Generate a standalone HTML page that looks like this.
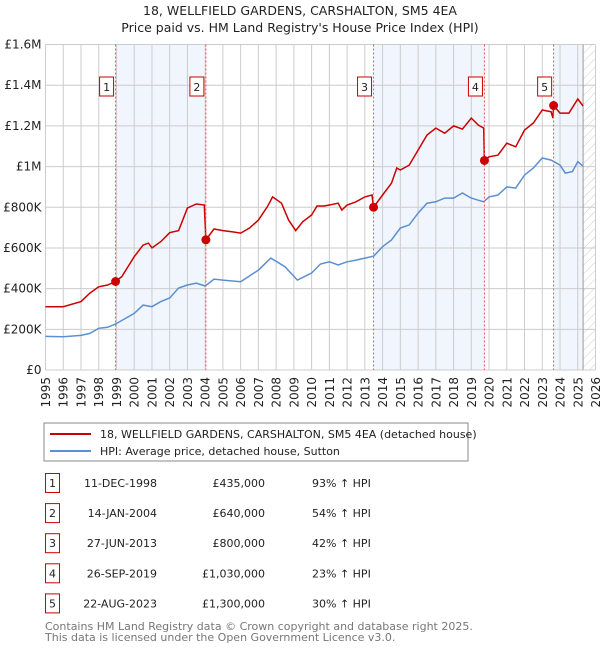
<!DOCTYPE html>
<html><head><meta charset="utf-8"><style>
body{margin:0;background:#fff;font-family:"DejaVu Sans","Liberation Sans",sans-serif;}
svg text{font-family:"DejaVu Sans","Liberation Sans",sans-serif;}
</style></head><body>
<svg id="chart" width="600" height="650" viewBox="0 0 600 650" xmlns="http://www.w3.org/2000/svg">
<defs><pattern id="hatch" width="6" height="6" patternUnits="userSpaceOnUse" patternTransform="rotate(45)"><line x1="0" y1="0" x2="0" y2="6" stroke="#ccc" stroke-width="1"/></pattern></defs>
<text x="300" y="15" text-anchor="middle" font-size="12.5" fill="#222">18, WELLFIELD GARDENS, CARSHALTON, SM5 4EA</text>
<text x="300" y="32" text-anchor="middle" font-size="12.5" fill="#222">Price paid vs. HM Land Registry's House Price Index (HPI)</text>
<g id="bands"></g><g id="grid"></g><g id="axes"></g><g id="lines"></g><g id="marks"></g>
<rect x="44" y="423" width="424" height="38" fill="#fff" stroke="#888"/>
<line x1="50" y1="434" x2="91" y2="434" stroke="#cc0000" stroke-width="2"/>
<text x="100" y="438" font-size="11" fill="#222">18, WELLFIELD GARDENS, CARSHALTON, SM5 4EA (detached house)</text>
<line x1="50" y1="451" x2="91" y2="451" stroke="#5b8fd4" stroke-width="2"/>
<text x="100" y="455" font-size="11" fill="#222">HPI: Average price, detached house, Sutton</text>
<g id="table"></g>
<text x="45" y="630" font-size="11" fill="#777">Contains HM Land Registry data © Crown copyright and database right 2025.</text>
<text x="45" y="641" font-size="11" fill="#777">This data is licensed under the Open Government Licence v3.0.</text>
</svg>
<script>
const hpiYears=[1995,1996,1997,1997.5,1998,1998.5,1998.95,2000,2000.5,2001,2001.5,2002,2002.5,2003,2003.5,2004,2004.5,2005,2006,2007,2007.7,2008.5,2009.2,2010,2010.5,2011,2011.5,2012,2012.5,2013,2013.5,2014,2014.5,2015,2015.5,2016,2016.5,2017,2017.5,2018,2018.5,2019,2019.7,2020,2020.5,2021,2021.5,2022,2022.5,2023,2023.5,2024,2024.3,2024.7,2025,2025.3];
const hpiValues=[165000,163000,170000,180000,205000,210000,226000,278000,319000,311000,336000,354000,403000,418000,427000,413000,447000,442000,434000,491000,550000,508000,442000,477000,521000,532000,516000,532000,540000,550000,560000,606000,639000,698000,713000,771000,820000,827000,845000,845000,870000,845000,827000,851000,860000,900000,894000,958000,993000,1042000,1032000,1007000,968000,975000,1024000,1002000];
const redYears=[1995,1996,1997,1997.5,1998,1998.5,1998.95,1999.3,2000,2000.5,2000.8,2001,2001.5,2002,2002.5,2003,2003.5,2003.95,2004.04,2004.5,2005,2005.5,2006,2006.5,2007,2007.5,2007.8,2008.3,2008.7,2009.1,2009.5,2010,2010.3,2010.7,2011,2011.5,2011.7,2012,2012.5,2013,2013.4,2013.49,2014,2014.5,2014.8,2015,2015.5,2016,2016.5,2017,2017.5,2018,2018.5,2019,2019.4,2019.7,2019.74,2020,2020.5,2021,2021.5,2022,2022.5,2023,2023.5,2023.6,2023.64,2024,2024.5,2025,2025.3];
const redValues=[311000,311000,336000,378000,409000,418000,435000,459000,557000,614000,624000,600000,631000,675000,685000,796000,816000,811000,640000,693000,685000,680000,673000,698000,737000,802000,851000,820000,737000,685000,729000,762000,806000,806000,811000,820000,786000,811000,827000,851000,860000,800000,860000,918000,993000,983000,1007000,1081000,1155000,1189000,1164000,1200000,1184000,1238000,1204000,1189000,1030000,1048000,1056000,1115000,1097000,1179000,1214000,1278000,1269000,1238000,1300000,1263000,1263000,1332000,1297000];
const saleLabels=["1","2","3","4","5"];
const saleYears=[1998.95,2004.04,2013.49,2019.74,2023.64];
const salePrices=[435000,640000,800000,1030000,1300000];
const saleDates=["11-DEC-1998","14-JAN-2004","27-JUN-2013","26-SEP-2019","22-AUG-2023"];
const salePriceText=["£435,000","£640,000","£800,000","£1,030,000","£1,300,000"];
const salePct=["93% ↑ HPI","54% ↑ HPI","42% ↑ HPI","23% ↑ HPI","30% ↑ HPI"];
const yTicks=[0,200000,400000,600000,800000,1000000,1200000,1400000,1600000];
const yTickLabels=["£0","£200K","£400K","£600K","£800K","£1M","£1.2M","£1.4M","£1.6M"];
const dataEnd=2025.3;

const X0=45.5,X1=595.5,Y0=370,Y1=44.5;
const x=v=>X0+(v-1995)/(2026-1995)*(X1-X0);
const y=v=>Y0-v/1600000*(Y0-Y1);
const NS="http://www.w3.org/2000/svg";
function mk(tag,attrs,parent){const e=document.createElementNS(NS,tag);for(const k in attrs)e.setAttribute(k,attrs[k]);document.getElementById(parent).appendChild(e);return e;}

[[0,1],[2,3]].forEach(p=>{const r=mk('rect',{x:x(saleYears[p[0]]),y:Y1,width:x(saleYears[p[1]])-x(saleYears[p[0]]),height:Y0-Y1,fill:'#eef3fc',opacity:0.8},'bands');

});
const b5=mk('rect',{x:x(saleYears[4]),y:Y1,width:x(dataEnd)-x(saleYears[4]),height:Y0-Y1,fill:'#eef3fc',opacity:0.8},'bands');


const h=mk('rect',{x:x(dataEnd),y:Y1,width:X1-x(dataEnd),height:Y0-Y1,fill:'url(#hatch)'},'bands');


for(let yr=1995;yr<=2026;yr++){const l=mk('line',{x1:x(yr),x2:x(yr),y1:Y1,y2:Y0,stroke:'#ccc','stroke-width':1},'grid');


const tx=x(yr)+4.5,ty=377;
const t=mk('text',{x:tx,y:ty,'text-anchor':'end','font-size':12,fill:'#222',transform:'rotate(-90 '+tx+' '+ty+')'},'axes');t.textContent=yr;

}
yTicks.forEach((v,i)=>{const l=mk('line',{x1:X0,x2:X1,y1:y(v),y2:y(v),stroke:'#ccc','stroke-width':1},'grid');


const t=mk('text',{x:X0-4,y:y(v)+4,'text-anchor':'end','font-size':12,fill:'#222'},'axes');t.textContent=yTickLabels[i];

});
const ve=mk('line',{x1:x(dataEnd),x2:x(dataEnd),y1:Y1,y2:Y0,stroke:'#999','stroke-width':1},'grid');


const hp=mk('path',{d:hpiYears.map((v,i)=>(i?'L':'M')+x(v).toFixed(1)+','+y(hpiValues[i]).toFixed(1)).join(''),fill:'none',stroke:'#5b8fd4','stroke-width':1.5},'lines');


const rp=mk('path',{d:redYears.map((v,i)=>(i?'L':'M')+x(v).toFixed(1)+','+y(redValues[i]).toFixed(1)).join(''),fill:'none',stroke:'#cc0000','stroke-width':1.5},'lines');


saleYears.forEach((sy,i)=>{const l=mk('line',{x1:x(sy),x2:x(sy),y1:Y1,y2:Y0,stroke:'#e55','stroke-width':1,'stroke-dasharray':'2,2'},'marks');


const c=mk('circle',{cx:x(sy),cy:y(salePrices[i]),r:4.5,fill:'#cc0000'},'marks');


const bx=mk('rect',{x:x(sy)-16,y:77,width:14,height:19,fill:'#fff',stroke:'#cc0000'},'marks');


const t=mk('text',{x:x(sy)-9,y:91,'text-anchor':'middle','font-size':11,fill:'#222'},'marks');t.textContent=saleLabels[i];


const ry=483+i*30.1;
const tb=mk('rect',{x:45.5,y:ry-9.5,width:14,height:19,fill:'#fff',stroke:'#cc0000'},'table');


const tn=mk('text',{x:52.5,y:ry+4,'text-anchor':'middle','font-size':11,fill:'#222'},'table');tn.textContent=saleLabels[i];


const td=mk('text',{x:157,y:ry+4,'text-anchor':'end','font-size':11,fill:'#222'},'table');td.textContent=saleDates[i];


const tp=mk('text',{x:265,y:ry+4,'text-anchor':'end','font-size':11,fill:'#222'},'table');tp.textContent=salePriceText[i];


const tc=mk('text',{x:312,y:ry+4,'font-size':11,fill:'#222'},'table');tc.textContent=salePct[i];

});
</script>
</body></html>
